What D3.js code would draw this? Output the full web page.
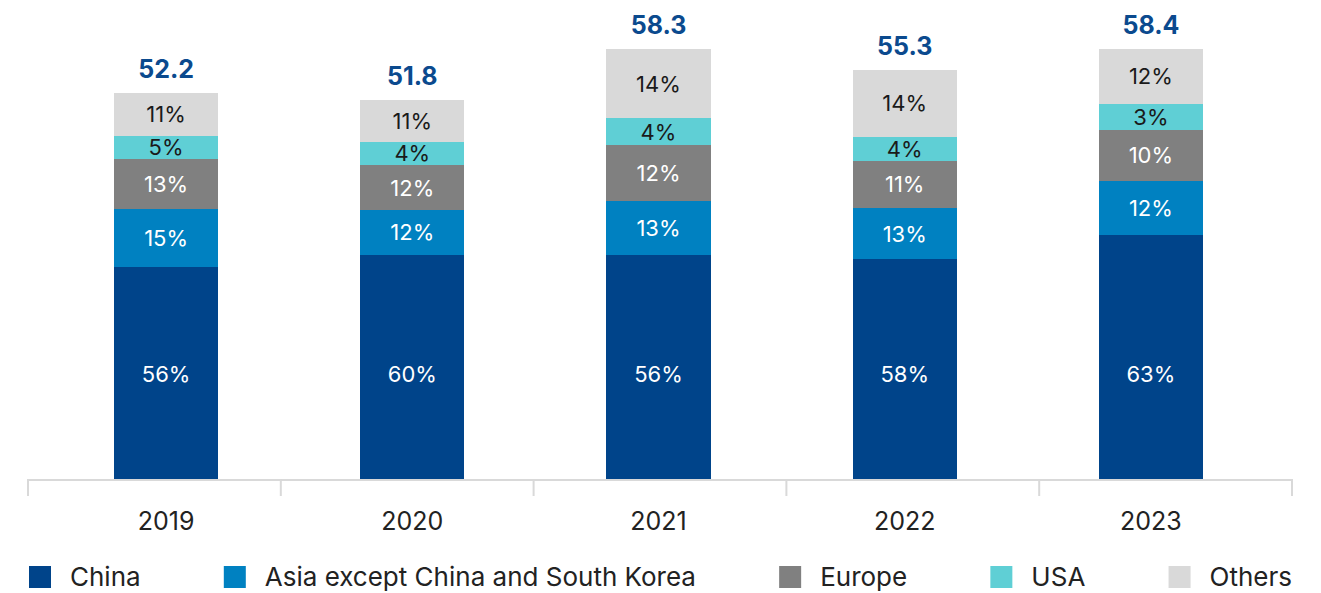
<!DOCTYPE html>
<html>
<head>
<meta charset="utf-8">
<script src="https://cdn.jsdelivr.net/npm/d3@7"></script>
<style>
  body { margin: 0; background: #fff; }
  svg { font-family: "Inter", "Open Sans", sans-serif; }
</style>
</head>
<body>
<div id="chart"></div>
<script>
// data (segment sizes as drawn, percent labels as printed)
const years = ["2019", "2020", "2021", "2022", "2023"]
const totals = [52.2, 51.8, 58.3, 55.3, 58.4]
const regions = ["China", "Asia except China and South Korea", "Europe", "USA", "Others"]

const china = [28.9, 30.5, 30.5, 29.9, 33.2]
const asia = [7.9, 6.1, 7.4, 7.0, 7.4]
const europe = [6.8, 6.1, 7.5, 6.4, 6.9]
const usa = [3.1, 3.2, 3.7, 3.3, 3.6]
const others = [5.9, 5.7, 9.4, 9.1, 7.4]

const chinaPct = [56, 60, 56, 58, 63]
const asiaPct = [15, 12, 13, 13, 12]
const europePct = [13, 12, 12, 11, 10]
const usaPct = [5, 4, 4, 4, 3]
const othersPct = [11, 11, 14, 14, 12]

const colors = ["#00448a", "#0081c1", "#808080", "#5fcfd5", "#d9d9d9"]
const labelColors = ["#fff", "#fff", "#fff", "#1a1a1a", "#1a1a1a"]

const WIDTH = 1321
const HEIGHT = 593
const BASE = 479
// china labels all sit on one line, at this value
const CHINA_LABEL_AT = 14.3

const svg = d3.select("#chart").append("svg")
  .attr("width", WIDTH)
  .attr("height", HEIGHT)

const series = [china, asia, europe, usa, others]
const pcts = [chinaPct, asiaPct, europePct, usaPct, othersPct]

const rows = years.map((yr, i) => {
  const row = { year: yr, total: totals[i] }
  regions.forEach((r, j) => {
    row[r] = series[j][i]
    row[r + "_pct"] = pcts[j][i]
  })
  return row
})

const stack = d3.stack().keys(regions)(rows)

const x = d3.scaleBand()
  .domain(years)
  .range([43, 1274])
  .paddingInner(0.577)
  .paddingOuter(0.2885)

const xAxisScale = d3.scaleBand()
  .domain(years)
  .range([28, 1292])

const y = d3.scaleLinear()
  .domain([0, 58.4])
  .range([BASE, 50])

// bars
const layers = svg.selectAll("g.layer")
  .data(stack)
  .enter().append("g")
  .attr("class", "layer")
  .attr("fill", (d, i) => colors[i])

layers.selectAll("rect")
  .data(d => d)
  .enter().append("rect")
  .attr("shape-rendering", "crispEdges")
  .attr("x", d => x(d.data.year))
  .attr("width", x.bandwidth())
  .attr("y", d => y(d[1]))
  .attr("height", d => y(d[0]) - y(d[1]))

// segment labels
stack.forEach((layer, i) => {
  svg.append("g").selectAll("text")
    .data(layer)
    .enter().append("text")
    .attr("x", d => x(d.data.year) + x.bandwidth() / 2)
    .attr("y", d => i === 0 ? y(CHINA_LABEL_AT) : (y(d[0]) + y(d[1])) / 2)
    .attr("dy", "0.36em")
    .attr("text-anchor", "middle")
    .attr("font-size", "22px")
    .attr("fill", labelColors[i])
    .text(d => d.data[layer.key + "_pct"] + "%")
})

// totals over the bars
svg.append("g").selectAll("text")
  .data(stack[stack.length - 1])
  .enter().append("text")
  .attr("x", d => x(d.data.year) + x.bandwidth() / 2)
  .attr("y", d => y(d[1]) - 15)
  .attr("text-anchor", "middle")
  .attr("font-size", "25px")
  .attr("font-weight", "bold")
  .attr("fill", "#0b4a8e")
  .text(d => d.data.total.toFixed(1))

// x axis: line plus boundary ticks
const axis = svg.append("g").attr("class", "x axis")
axis.append("line")
  .attr("x1", xAxisScale.range()[0])
  .attr("x2", xAxisScale.range()[1])
  .attr("y1", BASE + 1)
  .attr("y2", BASE + 1)
  .attr("stroke", "#d9d9d9")
  .attr("stroke-width", 2)

const tickXs = years.map(d => xAxisScale(d)).concat([xAxisScale.range()[1]])
axis.selectAll("line.tick")
  .data(tickXs)
  .enter().append("line")
  .attr("class", "tick")
  .attr("x1", d => d)
  .attr("x2", d => d)
  .attr("y1", BASE)
  .attr("y2", BASE + 17)
  .attr("stroke", "#d9d9d9")
  .attr("stroke-width", 2)

axis.selectAll("text")
  .data(years)
  .enter().append("text")
  .attr("x", d => x(d) + x.bandwidth() / 2)
  .attr("y", 521)
  .attr("dy", "0.36em")
  .attr("text-anchor", "middle")
  .attr("font-size", "25px")
  .attr("fill", "#222")
  .text(d => d)

// legend, spread across the axis width
const legend = svg.append("g").attr("class", "legend")
const items = legend.selectAll("g")
  .data(regions)
  .enter().append("g")

items.append("rect")
  .attr("width", 22)
  .attr("height", 22)
  .attr("y", 566)
  .attr("fill", (d, i) => colors[i])

items.append("text")
  .attr("x", 41)
  .attr("y", 577)
  .attr("dy", "0.36em")
  .attr("font-size", "26px")
  .attr("fill", "#222")
  .text(d => d)

const widths = []
items.each(function () { widths.push(this.getBBox().width) })
const startX = 29
const endX = 1292
const gap = (endX - startX - d3.sum(widths)) / (regions.length - 1)
let cx = startX
items.each(function (d, i) {
  d3.select(this).attr("transform", `translate(${cx}, 0)`)
  cx += widths[i] + gap
})
</script>
</body>
</html>
